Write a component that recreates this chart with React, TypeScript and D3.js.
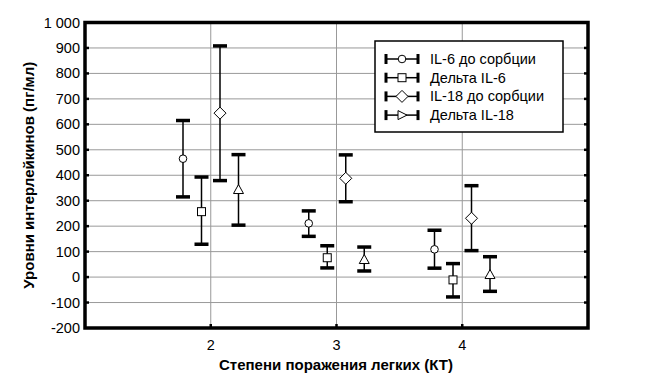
import React from 'react';
import * as d3 from 'd3';

const categories = [2, 3, 4];
const seriesNames = ['IL-6 до сорбции', 'Дельта IL-6', 'IL-18 до сорбции', 'Дельта IL-18'];
const seriesShapes = ['circle', 'square', 'diamond', 'triangle'];

// mean, lower, upper per category (2, 3, 4)
const il6Mean = [465, 211, 109];
const il6Low = [315, 160, 35];
const il6High = [615, 260, 184];
const dIl6Mean = [257, 76, -11];
const dIl6Low = [129, 36, -78];
const dIl6High = [393, 123, 53];
const il18Mean = [644, 388, 231];
const il18Low = [379, 296, 104];
const il18High = [908, 480, 359];
const dIl18Mean = [342, 67, 8];
const dIl18Low = [204, 24, -56];
const dIl18High = [481, 118, 80];

const yTicks = [-200, -100, 0, 100, 200, 300, 400, 500, 600, 700, 800, 900, 1000];

const W = 648;
const H = 388;
const left = 85;
const right = 588;
const top = 22.5;
const bottom = 328;
const FONT = '"Liberation Sans", Arial, Helvetica, sans-serif';

const series = [
  { mean: il6Mean, low: il6Low, high: il6High },
  { mean: dIl6Mean, low: dIl6Low, high: dIl6High },
  { mean: il18Mean, low: il18Low, high: il18High },
  { mean: dIl18Mean, low: dIl18Low, high: dIl18High },
].map((s, i) => ({ ...s, name: seriesNames[i], shape: seriesShapes[i] }));

const fmt = (v: number) => (Math.abs(v) >= 1000 ? d3.format(',')(v).replace(',', ' ') : String(v));

function Marker({ shape, x, y, legend }: { shape: string; x: number; y: number; legend?: boolean }) {
  const common = { fill: '#fff', stroke: '#000', strokeWidth: 1 };
  if (shape === 'circle') return <circle cx={x} cy={y} r={3.8} {...common} />;
  if (shape === 'square') return <rect x={x - 4} y={y - 4} width={8} height={8} {...common} />;
  if (shape === 'diamond')
    return <path d={`M${x},${y - 6}L${x + 6},${y}L${x},${y + 6}L${x - 6},${y}Z`} {...common} />;
  if (legend)
    return <path d={`M${x - 4},${y - 4.5}L${x + 5},${y}L${x - 4},${y + 4.5}Z`} {...common} />;
  return <path d={`M${x},${y - 5.5}L${x + 5},${y + 3.5}L${x - 5},${y + 3.5}Z`} {...common} />;
}

export default function App() {
  const x = d3.scaleLinear().domain([1, 5]).range([left, right]);
  const y = d3.scaleLinear().domain([-200, 1000]).range([bottom, top]);
  const off = d3.scalePoint<string>().domain(seriesNames).range([-27.75, 27.75]);

  const legendX = 375;
  const legendY = 41;
  const rowY = (i: number) => legendY + 18 + i * 18.7;

  return (
    <svg width={W} height={H} style={{ position: 'absolute', left: 0, top: 0, background: '#fff' }} fontFamily={FONT}>
      {/* grid */}
      {yTicks.slice(1, -1).map((t) => (
        <line key={'g' + t} x1={left} x2={right} y1={y(t)} y2={y(t)} stroke="#999" strokeWidth={1} />
      ))}
      {categories.map((c) => (
        <line key={'v' + c} x1={x(c)} x2={x(c)} y1={top} y2={bottom} stroke="#999" strokeWidth={1} />
      ))}
      {/* inner ticks */}
      {yTicks.slice(1, -1).map((t) => (
        <g key={'t' + t}>
          <line x1={left} x2={left + 4} y1={y(t)} y2={y(t)} stroke="#000" strokeWidth={2.5} />
          <line x1={right - 4} x2={right} y1={y(t)} y2={y(t)} stroke="#000" strokeWidth={2.5} />
        </g>
      ))}
      {categories.map((c) => (
        <line key={'bt' + c} x1={x(c)} x2={x(c)} y1={bottom - 4} y2={bottom} stroke="#000" strokeWidth={2.5} />
      ))}
      {/* error bars */}
      {series.map((s) =>
        categories.map((c, j) => {
          const cx = x(c) + (off(s.name) ?? 0);
          return (
            <g key={s.name + c}>
              <line x1={cx} x2={cx} y1={y(s.high[j])} y2={y(s.low[j])} stroke="#000" strokeWidth={1.5} />
              <line x1={cx - 7} x2={cx + 7} y1={y(s.high[j])} y2={y(s.high[j])} stroke="#000" strokeWidth={3.5} />
              <line x1={cx - 7} x2={cx + 7} y1={y(s.low[j])} y2={y(s.low[j])} stroke="#000" strokeWidth={3.5} />
              <Marker shape={s.shape} x={cx} y={y(s.mean[j])} />
            </g>
          );
        })
      )}
      {/* frame */}
      <rect x={left} y={top} width={right - left} height={bottom - top} fill="none" stroke="#000" strokeWidth={3.5} />
      {/* y tick labels */}
      {yTicks.map((t) => (
        <text key={'yl' + t} x={80} y={y(t)} dy="0.35em" textAnchor="end" fontSize={14.5} fill="#000">
          {fmt(t)}
        </text>
      ))}
      {categories.map((c) => (
        <text key={'xl' + c} x={x(c)} y={350} textAnchor="middle" fontSize={14.5} fill="#000">
          {c}
        </text>
      ))}
      <text x={336} y={370} textAnchor="middle" fontSize={15} fontWeight="bold" fill="#000">
        Степени поражения легких (КТ)
      </text>
      <text
        transform={`translate(34,${(top + bottom) / 2}) rotate(-90)`}
        textAnchor="middle"
        fontSize={15}
        fontWeight="bold"
        fill="#000"
      >
        Уровни интерлейкинов (пг/мл)
      </text>
      {/* legend */}
      <rect x={legendX} y={legendY} width={188} height={91} fill="#fff" stroke="#000" strokeWidth={1.5} />
      {series.map((s, i) => (
        <g key={'lg' + s.name}>
          <line x1={386} x2={418} y1={rowY(i)} y2={rowY(i)} stroke="#000" strokeWidth={1.5} />
          <line x1={386} x2={386} y1={rowY(i) - 5} y2={rowY(i) + 5} stroke="#000" strokeWidth={3} />
          <line x1={418} x2={418} y1={rowY(i) - 5} y2={rowY(i) + 5} stroke="#000" strokeWidth={3} />
          <Marker shape={s.shape} x={402} y={rowY(i)} legend />
          <text x={430} y={rowY(i)} dy="0.35em" fontSize={14.5} fill="#000">
            {s.name}
          </text>
        </g>
      ))}
    </svg>
  );
}
